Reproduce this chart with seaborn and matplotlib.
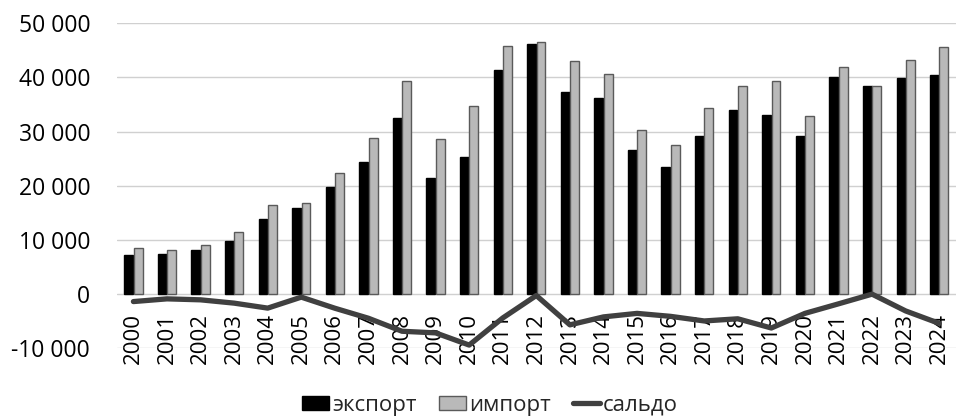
import numpy as np
import pandas as pd
import matplotlib
matplotlib.use("Agg")
import matplotlib.pyplot as plt
import seaborn as sns
from matplotlib.ticker import FuncFormatter, MultipleLocator
from matplotlib.patches import Patch
from matplotlib.lines import Line2D

years = [str(y) for y in range(2000, 2025)]
export = [7250, 7440, 8120, 9890, 13840, 15980, 19740, 24350, 32580, 21400,
          25330, 41380, 46180, 37320, 36160, 26620, 23540, 29260, 34000, 33030,
          29260, 40090, 38430, 39960, 40400]
imports = [8540, 8230, 9040, 11490, 16420, 16790, 22320, 28780, 39410, 28600,
           34800, 45760, 46490, 42990, 40590, 30260, 27600, 34320, 38430, 39410,
           32840, 41880, 38430, 43170, 45570]
saldo = [-1370, -870, -1050, -1660, -2580, -550, -2600, -4450, -6850, -7150,
         -9400, -4400, -250, -5670, -4200, -3550, -4100, -4950, -4550, -6250,
         -3550, -1790, 0, -3100, -5400]

series_names = ["экспорт", "импорт", "сальдо"]
bar_colors = {"экспорт": "#000000", "импорт": "#b9b9b9"}
bar_edges = {"экспорт": "#000000", "импорт": "#5a5a5a"}
line_color = "#404040"

sns.set_theme(style="white")
plt.rcParams["font.family"] = ["Open Sans", "DejaVu Sans"]

df = pd.DataFrame({
    "year": years * 2,
    "value": export + imports,
    "series": [series_names[0]] * len(years) + [series_names[1]] * len(years),
})

fig = plt.figure(figsize=(9.56, 4.16), dpi=100)
ax = fig.add_axes([0.122, 0.1627, 0.878, 0.7813])

sns.barplot(data=df, x="year", y="value", hue="series", order=years,
            hue_order=series_names[:2], palette=bar_colors,
            width=0.56, gap=0.06, linewidth=1.0, legend=False, ax=ax)
for container, name in zip(ax.containers, series_names[:2]):
    for bar in container:
        bar.set_edgecolor(bar_edges[name])
        bar.set_zorder(2)

sns.lineplot(x=np.arange(len(years)), y=saldo, color=line_color, linewidth=3.8,
             ax=ax, legend=False, zorder=3)
for ln in ax.lines:
    ln.set_solid_capstyle("round")
    ln.set_solid_joinstyle("round")

ax.set_xlim(-0.5, len(years) - 0.5)
ax.set_ylim(-10000, 50000)
ax.yaxis.set_major_locator(MultipleLocator(10000))
ax.yaxis.set_major_formatter(
    FuncFormatter(lambda v, _: f"{v:,.0f}".replace(",", " ")))
ax.set_xlabel("")
ax.set_ylabel("")

ax.grid(axis="y", color="#d0d0d0", linewidth=1.0)
ax.set_axisbelow(True)
for s in ax.spines.values():
    s.set_visible(False)
ax.spines["bottom"].set_position(("data", 0))

ax.tick_params(axis="x", length=0, pad=13.5, labelsize=16, rotation=90,
               colors="black")
ax.tick_params(axis="y", length=0, pad=19, labelsize=16.5, colors="black")
for lab in ax.get_xticklabels():
    lab.set_verticalalignment("top")

handles = [
    Patch(facecolor=bar_colors["экспорт"], edgecolor=bar_edges["экспорт"]),
    Patch(facecolor=bar_colors["импорт"], edgecolor=bar_edges["импорт"]),
    Line2D([0], [0], color=line_color, linewidth=3.8, solid_capstyle="round"),
]
fig.legend(handles, series_names, loc="center", bbox_to_anchor=(0.5126, 0.026),
           ncol=3, frameon=False, fontsize=16, handlelength=1.2,
           handleheight=0.55, handletextpad=0.15, columnspacing=1.0,
           borderaxespad=0, borderpad=0)

fig.savefig("out.png", dpi=100)
